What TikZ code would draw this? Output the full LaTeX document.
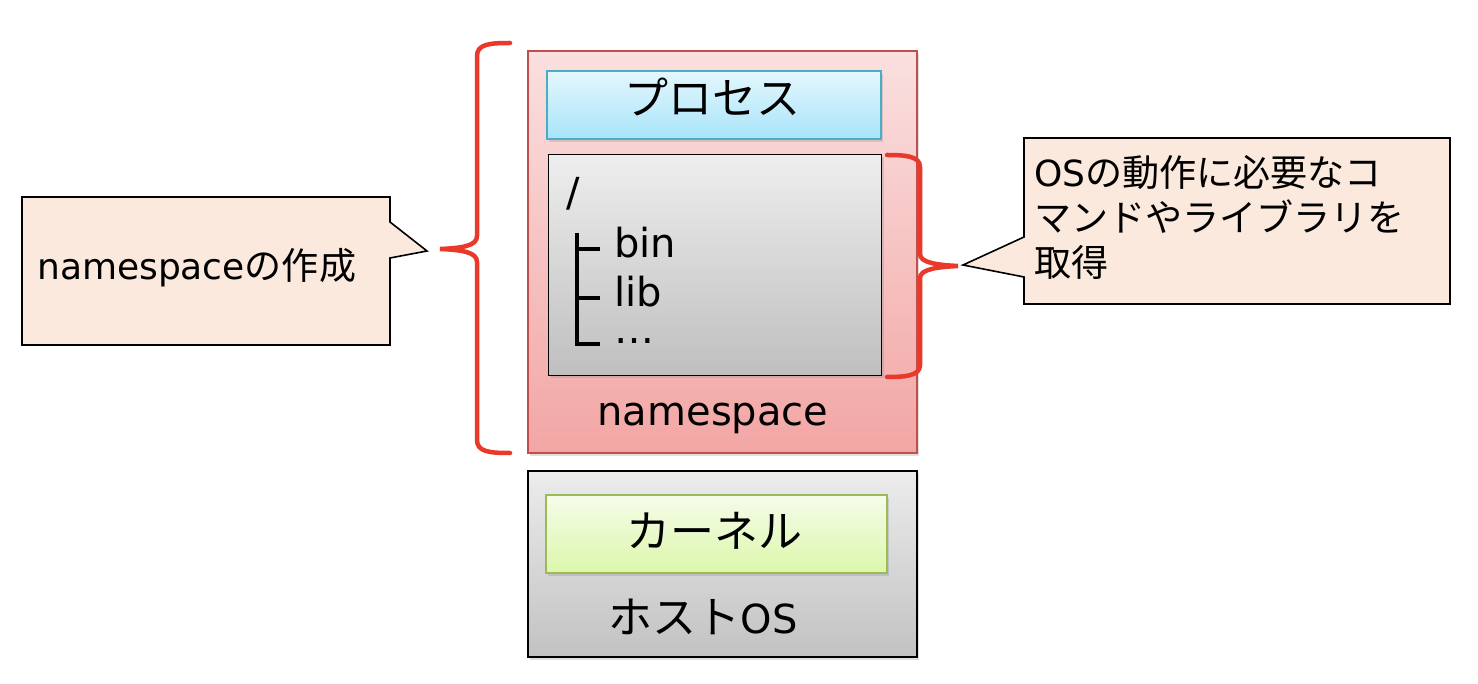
\documentclass[tikz,border=0pt]{standalone}
\usepackage{fontspec}
\setmainfont{DejaVu Sans}
\newfontfamily\jp[Scale=1.1]{Noto Sans CJK JP}
\newfontfamily\jpcall[Scale=1.03]{Noto Sans CJK JP}
\usetikzlibrary{shadows}

\definecolor{braceRed}{HTML}{E8392B}
\definecolor{calloutFill}{HTML}{FAE9DC}
\definecolor{nsBorder}{HTML}{C0504D}
\definecolor{procBorder}{HTML}{4BACC6}
\definecolor{kernBorder}{HTML}{9BBB59}

\begin{document}
\begin{tikzpicture}[x=1pt, y=-1pt,
	box/.style={draw, line width=1.8pt, inner sep=0pt,
		drop shadow={opacity=0.25, shadow xshift=2pt, shadow yshift=-3pt}},
	label/.style={inner sep=0pt, font=\fontsize{40}{48}\selectfont},
	calltext/.style={inner sep=0pt, font=\fontsize{36}{45}\selectfont, align=left},
	callout/.style={draw, fill=calloutFill, line width=1.6pt, line join=miter},
	brace/.style={draw=braceRed, line width=4.5pt, line cap=round}]

	\useasboundingbox (0,0) rectangle (1478,684);

	% namespace box and its contents
	\node[box, draw=nsBorder, top color={rgb,255:red,250;green,224;blue,224}, bottom color={rgb,255:red,242;green,166;blue,164},
		minimum width=389pt, minimum height=402pt] (ns) at (722.5,252) {};
	\node[box, draw=procBorder, top color={rgb,255:red,228;green,247;blue,253}, bottom color={rgb,255:red,168;green,228;blue,250},
		minimum width=334pt, minimum height=68pt] (proc) at (714,105) {};
	\node[label] (proctext) at (712,97) {\jp プロセス};
	\node[box, draw=black, top color={rgb,255:red,238;green,238;blue,238}, bottom color={rgb,255:red,191;green,191;blue,191},
		minimum width=333pt, minimum height=221pt] (fs) at (715,265) {};
	\node[label, anchor=base] (nslabel) at (713,425) {namespace};

	% Directory tree
	\node[label, anchor=base west] (root) at (566,207) {/};
	\node[label, anchor=base west] (bin) at (614,258) {bin};
	\node[label, anchor=base west] (lib) at (614,307) {lib};
	\node[label, anchor=base west] (more) at (614,344) {…};
	\draw[line width=3.5pt] (577,233) -- (577,344) -- (600,344);
	\draw[line width=3.5pt] (577,249) -- (600,249);
	\draw[line width=3.5pt] (577,298) -- (600,298);

	% Host OS
	\node[box, draw=black, top color={rgb,255:red,236;green,236;blue,236}, bottom color={rgb,255:red,194;green,194;blue,194},
		minimum width=389pt, minimum height=186pt] (host) at (722.5,564) {};
	\node[box, draw=kernBorder, top color={rgb,255:red,245;green,252;blue,234}, bottom color={rgb,255:red,220;green,247;blue,170},
		minimum width=341pt, minimum height=78pt] (kern) at (716.5,534) {};
	\node[label] (kerntext) at (714,531) {\jp カーネル};
	\node[label, anchor=base] (hostlabel) at (703,633) {{\jp ホスト}OS};

	% Braces
	\draw[brace] (510,43) .. controls (490,43) and (477,44) .. (477,56) -- (477,236)
		.. controls (477,246) and (462,248) .. (440,249) .. controls (462,250) and (477,252) .. (477,262)
		-- (477,440) .. controls (477,452) and (490,453) .. (510,453);
	\draw[brace] (887,155) .. controls (905,155) and (920,156) .. (920,167) -- (920,254)
		.. controls (920,263) and (938,265) .. (958,266) .. controls (938,267) and (920,269) .. (920,278)
		-- (920,365) .. controls (920,376) and (905,377) .. (887,377);

	% Callouts
	\filldraw[callout] (22,197) -- (390,197) -- (390,222) -- (427,251) -- (390,258) -- (390,345) -- (22,345) -- cycle;
	\node[calltext, anchor=base west] (mktext) at (37,280) {namespace{\jpcall の作成}};
	\filldraw[callout] (1024,138) -- (1450,138) -- (1450,304) -- (1024,304) -- (1024,277) -- (963,265) -- (1024,237) -- cycle;
	\node[calltext, anchor=north west] (gettext) at (1034,155) {OS{\jpcall の動作に必要なコ}\\{\jpcall マンドやライブラリを}\\{\jpcall 取得}};
\end{tikzpicture}
\end{document}
